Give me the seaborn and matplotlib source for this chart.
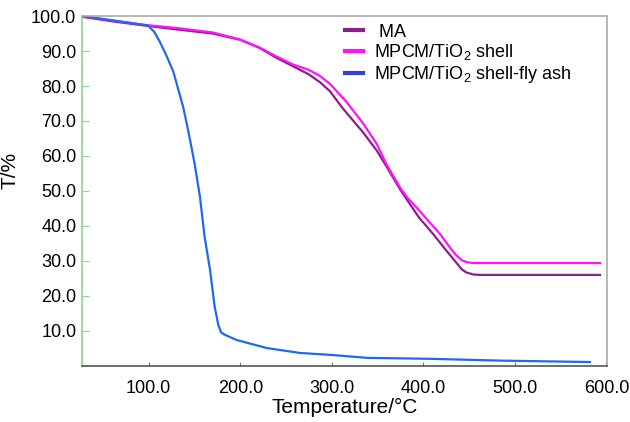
import numpy as np
import pandas as pd
import matplotlib
matplotlib.use("Agg")
import matplotlib.pyplot as plt
from matplotlib.ticker import FormatStrFormatter
import seaborn as sns

# TG curves
ma_temp = [27, 60, 98, 130, 170, 200, 221, 240, 258, 275, 287, 298, 312, 334, 349, 360, 375,
           395, 411, 425, 437, 442, 447, 455, 462, 593]
ma_mass = [99.8, 98.5, 97.2, 96.2, 95.0, 93.2, 90.9, 88.0, 85.6, 83.3, 81.1, 78.5, 73.6, 66.8, 61.6, 56.9, 50.3,
           42.5, 37.6, 33.0, 29.2, 27.6, 26.7, 26.1, 26.0, 26.0]

shell_temp = [27, 60, 98, 130, 170, 200, 221, 240, 258, 275, 287, 298, 315, 334, 349, 360, 375,
              382, 395, 407, 418, 428, 436, 442, 448, 455, 593]
shell_mass = [99.9, 98.7, 97.4, 96.6, 95.3, 93.3, 91.0, 88.4, 86.1, 84.6, 82.9, 80.6, 75.8, 69.4, 63.5, 57.5, 50.8,
              48.3, 44.6, 41.0, 37.8, 34.2, 31.6, 30.2, 29.6, 29.4, 29.4]

ash_temp = [27, 60, 99, 106, 112, 119, 127, 132, 138, 143, 150, 156, 161, 167, 172, 176, 179,
            183, 196, 229, 265, 301, 338, 411, 484, 582]
ash_mass = [100.0, 98.8, 97.3, 95.5, 92.7, 88.9, 84.0, 79.3, 73.6, 67.4, 58.0, 48.3, 37.0, 27.4, 17.0, 11.7, 9.6,
            8.9, 7.4, 5.1, 3.7, 3.1, 2.3, 2.0, 1.5, 1.1]

labels = [" MA", "MPCM/TiO$_2$ shell", "MPCM/TiO$_2$ shell-fly ash"]
colors = ["#8b1e8b", "#ff12ff", "#2068f0"]

df = pd.concat([
    pd.DataFrame({"temp": ma_temp, "mass": ma_mass, "sample": labels[0]}),
    pd.DataFrame({"temp": shell_temp, "mass": shell_mass, "sample": labels[1]}),
    pd.DataFrame({"temp": ash_temp, "mass": ash_mass, "sample": labels[2]}),
])

plt.rcParams['font.family'] = ['Liberation Sans', 'DejaVu Sans']
plt.rcParams['mathtext.default'] = 'regular'

fig = plt.figure(figsize=(6.3, 4.22), dpi=100)
ax = fig.add_axes([0.130, 0.133, 0.834, 0.829])

sns.lineplot(data=df, x="temp", y="mass", hue="sample", palette=colors,
             linewidth=1.6, ax=ax, estimator=None, sort=False)

ax.set_xlim(27, 601)
ax.set_ylim(0, 100)
ax.set_xticks([100, 200, 300, 400, 500, 600])
ax.set_yticks([10, 20, 30, 40, 50, 60, 70, 80, 90, 100])
ax.xaxis.set_major_formatter(FormatStrFormatter('%.1f'))
ax.yaxis.set_major_formatter(FormatStrFormatter('%.1f'))
ax.tick_params(axis='y', direction='in', length=5, color='#8fd68f', labelsize=13, pad=4)
ax.tick_params(axis='x', direction='in', length=3, color='#777777', labelsize=13, pad=10)

ax.spines['left'].set_color('#8fd68f')
ax.spines['bottom'].set_color('#555555')
ax.spines['top'].set_color('#aaaaaa')
ax.spines['right'].set_color('#aaaaaa')
for s in ax.spines.values():
    s.set_linewidth(1.2)

ax.set_xlabel('Temperature/°C', fontsize=15, labelpad=1)
ax.set_ylabel('T/%', fontsize=15)
ax.yaxis.set_label_coords(-0.118, 0.56)

leg = ax.legend(loc='upper left', bbox_to_anchor=(0.47, 1.025), frameon=False,
                fontsize=13, handlelength=1.0, handletextpad=0.6, labelspacing=0.1)
for line in leg.get_lines():
    line.set_linewidth(3)
leg.get_lines()[2].set_color('#3340d0')

fig.savefig('out.png', dpi=100)
